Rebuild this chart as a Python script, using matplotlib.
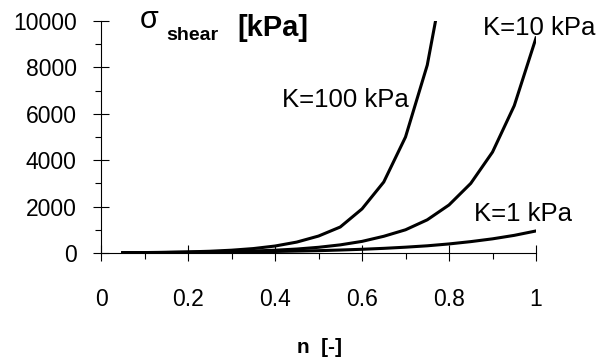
import numpy as np
import matplotlib
matplotlib.use("Agg")
import matplotlib.pyplot as plt
from matplotlib.ticker import MultipleLocator

plt.rcParams['font.family'] = ['Liberation Sans', 'DejaVu Sans']

# porosity n, step 0.05
n = [0.05, 0.10, 0.15, 0.20, 0.25, 0.30, 0.35, 0.40, 0.45, 0.50,
     0.55, 0.60, 0.65, 0.70, 0.75, 0.80, 0.85, 0.90, 0.95, 1.00]

# shear stress [kPa]
sig_k100 = [11, 18, 30, 47, 75, 120, 190, 300, 470, 730,
            1120, 1900, 3060, 5000, 8100, 13100, 21000, 34000, 55000, 89000]
sig_k10 = [11, 15, 21, 30, 42, 60, 85, 120, 170, 245,
           350, 500, 720, 1000, 1430, 2070, 3000, 4350, 6350, 9270]
sig_k1 = [13, 17, 21, 27, 33, 42, 52, 65, 82, 100,
          128, 160, 200, 250, 310, 390, 490, 610, 760, 950]

fig = plt.figure(figsize=(6.1, 3.61), dpi=100)
ax = fig.add_axes([0.1656, 0.2992, 0.7131, 0.6426])

for s in (sig_k100, sig_k10, sig_k1):
    ax.plot(n, s, color='black', lw=2.2, solid_joinstyle='miter')

ax.set_xlim(0, 1)
ax.set_ylim(0, 10000)
ax.spines['top'].set_visible(False)
ax.spines['right'].set_visible(False)
for sp in ('left', 'bottom'):
    ax.spines[sp].set_linewidth(0.8)

ax.xaxis.set_major_locator(MultipleLocator(0.2))
ax.xaxis.set_minor_locator(MultipleLocator(0.1))
ax.yaxis.set_major_locator(MultipleLocator(2000))
ax.yaxis.set_minor_locator(MultipleLocator(1000))
ax.tick_params(which='major', direction='inout', length=11, width=0.8,
               labelsize=16.5)
ax.tick_params(axis='y', which='major', pad=12)
ax.tick_params(axis='x', which='major', pad=20)
ax.tick_params(which='minor', direction='out', length=4.5, width=0.8)
ax.set_xticks([0, 0.2, 0.4, 0.6, 0.8, 1.0])
ax.set_xticklabels(['0', '0.2', '0.4', '0.6', '0.8', '1'])

# axis titles
fig.text(140 / 610, 1 - 28 / 361, 'σ', fontsize=22, ha='left', va='baseline')
fig.text(166 / 610, 1 - 40 / 361, 'shear', fontsize=14, fontweight='bold',
         ha='left', va='baseline')
fig.text(237 / 610, 1 - 36 / 361, '[kPa]', fontsize=21, fontweight='bold',
         ha='left', va='baseline')
fig.text(319 / 610, 1 - 353 / 361, 'n  [-]', fontsize=15, fontweight='bold',
         ha='center', va='baseline')

# curve labels
ax.text(0.415, 6600, 'K=100 kPa', fontsize=18.5, ha='left', va='center')
ax.text(0.877, 9700, 'K=10 kPa', fontsize=18.5, ha='left', va='center')
ax.text(0.858, 1680, 'K=1 kPa', fontsize=18.5, ha='left', va='center')

fig.savefig('out.png', dpi=100)
